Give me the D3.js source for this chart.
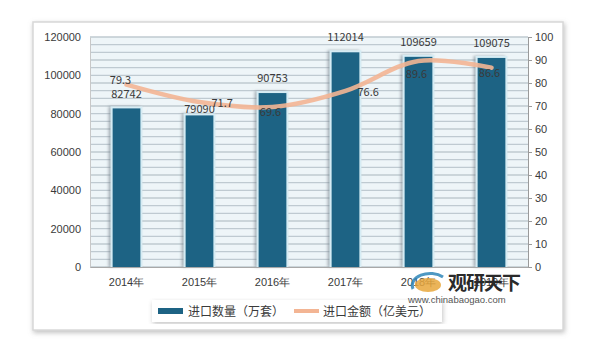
<!DOCTYPE html>
<html>
<head>
<meta charset="utf-8">
<script src="https://cdn.jsdelivr.net/npm/d3@7"></script>
<style>
  body { margin: 0; background: #fff; }
  svg { display: block; font-family: "Noto Sans CJK SC", "Noto Sans", sans-serif; }
</style>
</head>
<body>
<svg width="597" height="352"></svg>
<script>
let years = ["2014年", "2015年", "2016年", "2017年", "2018年", "2019年"];
let quantity = [82742, 79090, 90753, 112014, 109659, 109075];
let amount = [79.3, 71.7, 69.6, 76.6, 89.6, 86.6];
let leftTicks = [0, 20000, 40000, 60000, 80000, 100000, 120000];
let rightTicks = [0, 10, 20, 30, 40, 50, 60, 70, 80, 90, 100];
let seriesNames = ["进口数量（万套）", "进口金额（亿美元）"];
// where each amount label sits relative to its point
let amountLabelPlace = ["above", "right", "center", "right", "below", "center"];
// gap between bar top and its label (2015 sits tight, as in the source)
let barLabelLift = [10, 2, 11, 11, 11, 11];

let barColor = "#1d6384";
let lineColor = "#f3b594";
let textColor = "#3a3a3a";

let svg = d3.select("svg");
let margin = {left: 90, right: 69, top: 37, bottom: 85};
let width = 597 - margin.left - margin.right;
let height = 352 - margin.top - margin.bottom;

let defs = svg.append("defs");
let frameShadow = defs.append("filter").attr("id", "frameShadow")
  .attr("x", "-5%").attr("y", "-5%").attr("width", "110%").attr("height", "110%");
frameShadow.append("feDropShadow").attr("dx", 1).attr("dy", 2)
  .attr("stdDeviation", 2.5).attr("flood-color", "#888").attr("flood-opacity", 0.55);
let barShadow = defs.append("filter").attr("id", "barShadow")
  .attr("x", "-40%").attr("y", "-10%").attr("width", "180%").attr("height", "120%");
barShadow.append("feDropShadow").attr("dx", -2).attr("dy", 0)
  .attr("stdDeviation", 1.5).attr("flood-color", "#6f7f88").attr("flood-opacity", 0.6);

// outer card
svg.append("rect")
  .attr("x", 33).attr("y", 22).attr("width", 530).attr("height", 308)
  .attr("fill", "#fff").attr("stroke", "#d8d8d8").attr("stroke-width", 1.5)
  .attr("filter", "url(#frameShadow)");

let g = svg.append("g").attr("transform", `translate(${margin.left},${margin.top})`);

let x = d3.scaleBand().domain(years).range([0, width]).paddingInner(0.62).paddingOuter(0.31);
let yLeft = d3.scaleLinear().domain([0, 120000]).range([height, 0]);
let yRight = d3.scaleLinear().domain([0, 100]).range([height, 0]);

// plot background and striped grid
g.append("rect").attr("width", width).attr("height", height).attr("fill", "#eef5f8");
g.selectAll("line.grid")
  .data(d3.range(0, 120001, 4000))
  .join("line")
  .attr("class", "grid")
  .attr("x1", 0).attr("x2", width)
  .attr("y1", d => yLeft(d)).attr("y2", d => yLeft(d))
  .attr("stroke", "#bfcad1").attr("stroke-width", 1.4);

// bars
g.selectAll("rect.glow")
  .data(quantity)
  .join("rect")
  .attr("class", "glow")
  .attr("x", (d, i) => x(years[i]) - 2)
  .attr("y", d => yLeft(d) - 2)
  .attr("width", x.bandwidth() + 4)
  .attr("height", d => height - yLeft(d) + 2)
  .attr("fill", "#d6ecf4")
  .attr("filter", "url(#barShadow)");

g.selectAll("rect.bar")
  .data(quantity)
  .join("rect")
  .attr("class", "bar")
  .attr("x", (d, i) => x(years[i]))
  .attr("y", d => yLeft(d))
  .attr("width", x.bandwidth())
  .attr("height", d => height - yLeft(d))
  .attr("fill", barColor);

g.selectAll("text.barLabel")
  .data(quantity)
  .join("text")
  .attr("class", "barLabel")
  .attr("x", (d, i) => x(years[i]) + x.bandwidth() / 2)
  .attr("y", (d, i) => yLeft(d) - barLabelLift[i])
  .attr("text-anchor", "middle")
  .attr("font-size", 11)
  .attr("fill", textColor)
  .text(d => d);

// amount line
let cx = (d, i) => x(years[i]) + x.bandwidth() / 2;
let line = d3.line()
  .x(cx)
  .y(d => yRight(d))
  .curve(d3.curveCatmullRom.alpha(0.5));

g.append("path")
  .datum(amount)
  .attr("d", line)
  .attr("fill", "none")
  .attr("stroke", lineColor)
  .attr("stroke-width", 4.5)
  .attr("stroke-linecap", "round")
  .attr("opacity", 0.9);

g.selectAll("text.lineLabel")
  .data(amount)
  .join("text")
  .attr("class", "lineLabel")
  .attr("x", (d, i) => {
    let p = amountLabelPlace[i];
    if (p === "right") return cx(d, i) + 12;
    if (p === "above") return cx(d, i) - 6;
    return cx(d, i) - 2;
  })
  .attr("y", (d, i) => {
    let p = amountLabelPlace[i];
    if (p === "above") return yRight(d) - 1;
    if (p === "below") return yRight(d) + 17;
    if (p === "center") return yRight(d) + 9;
    return yRight(d) + 5;
  })
  .attr("text-anchor", (d, i) => amountLabelPlace[i] === "right" ? "start" : "middle")
  .attr("font-size", 11)
  .attr("fill", textColor)
  .text(d => d);

// axes
let leftAxis = g.append("g")
  .call(d3.axisLeft(yLeft).tickValues(leftTicks).tickFormat(d3.format("d")).tickSize(0).tickPadding(9));
leftAxis.select(".domain").attr("stroke", "#c8c8c8");
leftAxis.selectAll("text").attr("font-size", 11).attr("fill", textColor);

let rightAxis = g.append("g")
  .attr("transform", `translate(${width},0)`)
  .call(d3.axisRight(yRight).tickValues(rightTicks).tickSize(4).tickPadding(3));
rightAxis.select(".domain").attr("stroke", "#9a9a9a");
rightAxis.selectAll("line").attr("stroke", "#9a9a9a");
rightAxis.selectAll("text").attr("font-size", 11).attr("fill", textColor);

let bottomAxis = g.append("g")
  .attr("transform", `translate(0,${height})`)
  .call(d3.axisBottom(x).tickSize(0).tickPadding(11));
bottomAxis.select(".domain").attr("stroke", "#a8a8a8");
bottomAxis.selectAll("text").attr("font-size", 11).attr("fill", textColor);

// legend
let legend = svg.append("g").attr("transform", "translate(152,300)");
legend.append("rect")
  .attr("width", 290).attr("height", 22)
  .attr("fill", "#fff")
  .attr("filter", "url(#frameShadow)")
  .attr("opacity", 0.9);
legend.append("rect")
  .attr("x", 6).attr("y", 8).attr("width", 25).attr("height", 6)
  .attr("fill", barColor);
legend.append("text")
  .attr("x", 36).attr("y", 15.5)
  .attr("font-size", 12).attr("fill", textColor)
  .text(seriesNames[0]);
legend.append("line")
  .attr("x1", 142).attr("x2", 167).attr("y1", 11).attr("y2", 11)
  .attr("stroke", lineColor).attr("stroke-width", 4);
legend.append("text")
  .attr("x", 171).attr("y", 15.5)
  .attr("font-size", 12).attr("fill", textColor)
  .text(seriesNames[1]);

// watermark
let wm = svg.append("g");
wm.append("path")
  .attr("d", "M413,289 a18,12 0 0 1 30,-12")
  .attr("fill", "none").attr("stroke", "#2f86b8").attr("stroke-width", 3).attr("opacity", 0.85);
wm.append("ellipse")
  .attr("cx", 428).attr("cy", 285).attr("rx", 13).attr("ry", 7)
  .attr("fill", "#e7a73c").attr("opacity", 0.85);
wm.append("text")
  .attr("x", 448).attr("y", 290)
  .attr("font-size", 19).attr("font-weight", "bold").attr("fill", "#2a2a2a")
  .attr("letter-spacing", -1)
  .text("观研天下");
wm.append("text")
  .attr("x", 408).attr("y", 303)
  .attr("font-size", 9.5).attr("fill", "#555")
  .attr("font-family", "Liberation Sans, Arial, sans-serif")
  .text("www.chinabaogao.com");
</script>
</body>
</html>
